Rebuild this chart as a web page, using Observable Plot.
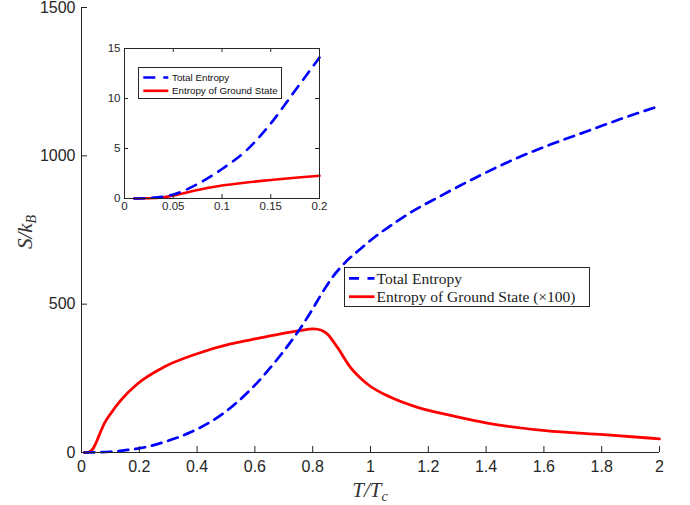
<!DOCTYPE html>
<html>
<head>
<meta charset="utf-8">
<script src="https://cdn.jsdelivr.net/npm/d3@7"></script>
<script src="https://cdn.jsdelivr.net/npm/@observablehq/plot@0.6"></script>
<style>
  html, body { margin: 0; padding: 0; background: white; }
  #wrap { position: relative; width: 690px; height: 505px; }
  #wrap svg { display: block; }
  #inset { position: absolute; left: 94px; top: 38px; }
  #main g[aria-label$="tick label"] { font-size: 16px; }
  #main g[aria-label$="tick label"] text { font-size: 16px; }
  #inset g[aria-label$="tick label"] { font-size: 11.5px; }
  #inset g[aria-label$="tick label"] text { font-size: 11.5px; }
</style>
</head>
<body>
<div id="wrap"><div id="main"></div><div id="inset"></div></div>
<script>
// ---- Main panel data (S/k_B vs T/Tc) ----
const totalT = [0.01, 0.1, 0.17, 0.2, 0.285, 0.377, 0.481, 0.585, 0.683, 0.758, 0.795, 0.829, 0.864, 0.913, 0.965, 1.017, 1.075, 1.127, 1.245, 1.367, 1.494, 1.62, 1.747, 1.874, 2.0];
const totalS = [0, 2.5, 10, 14, 35, 68, 125, 212, 321, 420, 476, 532, 585, 641, 686, 728, 768, 802, 866, 928, 987, 1037, 1082, 1127, 1168];

const groundT = [0.01, 0.02, 0.03, 0.04, 0.05, 0.066, 0.08, 0.1, 0.135, 0.193, 0.285, 0.4, 0.516, 0.585, 0.689, 0.75, 0.804, 0.83, 0.85, 0.885, 0.93, 0.989, 1.07, 1.16, 1.277, 1.404, 1.605, 1.807, 2.0];
const groundS100 = [0, 0, 4, 13, 32, 70, 100, 130, 175, 231, 288, 333, 366, 380, 400, 410, 417, 412, 400, 355, 288, 231, 186, 153, 125, 99, 74, 60, 46];

const mainXTicks = [0, 0.2, 0.4, 0.6, 0.8, 1, 1.2, 1.4, 1.6, 1.8, 2];
const mainYTicks = [0, 500, 1000, 1500];

// ---- Inset data (low temperature zoom) ----
const insetTotalT = [0.01, 0.025, 0.04, 0.05, 0.075, 0.1, 0.125, 0.15, 0.175, 0.2];
const insetTotalS = [0, 0.05, 0.2, 0.4, 1.45, 2.95, 4.8, 7.5, 10.8, 14.1];
const insetGroundT = [0.01, 0.025, 0.04, 0.055, 0.07, 0.085, 0.1, 0.125, 0.15, 0.175, 0.2];
const insetGroundS = [0, 0.02, 0.12, 0.4, 0.75, 1.05, 1.3, 1.6, 1.85, 2.07, 2.27];

const insetXTicks = [0, 0.05, 0.1, 0.15, 0.2];
const insetYTicks = [0, 5, 10, 15];

const legendMain = ["Total Entropy", "Entropy of Ground State (\u00d7100)"];
const legendInset = ["Total Entropy", "Entropy of Ground State"];

const BLUE = "#0000ff", RED = "#ff0000", AX = "#262626";

const totalRows = totalT.map((t, i) => ({t, s: totalS[i]}));
const groundRows = groundT.map((t, i) => ({t, s: groundS100[i]}));
const insetTotalRows = insetTotalT.map((t, i) => ({t, s: insetTotalS[i]}));
const insetGroundRows = insetGroundT.map((t, i) => ({t, s: insetGroundS[i]}));

const mW = 690, mH = 505, mL = 81, mR = 31, mT = 7, mB = 53;
const fw = mW - mL - mR, fh = mH - mT - mB;

const mainPlot = Plot.plot({
  width: mW, height: mH,
  marginLeft: mL, marginRight: mR, marginTop: mT, marginBottom: mB,
  x: {domain: [0, 2]},
  y: {domain: [0, 1500]},
  style: {fontFamily: "'Liberation Sans', Arial, sans-serif", fontSize: "16px", color: AX, background: "white", overflow: "visible"},
  marks: [
    Plot.line(groundRows, {x: "t", y: "s", stroke: RED, strokeWidth: 2.8, curve: "monotone-x"}),
    Plot.line(totalRows, {x: "t", y: "s", stroke: BLUE, strokeWidth: 2.7, strokeDasharray: "10,7", curve: "monotone-x"}),
    Plot.ruleX([0], {stroke: AX, strokeWidth: 1}),
    Plot.ruleY([0], {stroke: AX, strokeWidth: 1}),
    Plot.tickX(mainXTicks, {x: d => d, insetTop: fh - 6, stroke: AX}),
    Plot.tickY(mainYTicks, {y: d => d, insetRight: fw - 6, stroke: AX}),
    Plot.axisX(mainXTicks, {tickSize: 0, tickPadding: 8, tickFormat: d => String(d), label: null, fontSize: 16}),
    Plot.axisY(mainYTicks, {tickSize: 0, tickPadding: 6, tickFormat: d => String(d), label: null, fontSize: 16})
  ]
});
document.getElementById("main").appendChild(mainPlot);

// Axis titles and legend of main panel
{
  const svg = d3.select(mainPlot);
  const serif = "'Liberation Serif', 'Times New Roman', serif";
  const xl = svg.append("text").attr("x", 370).attr("y", 497).attr("text-anchor", "middle")
    .attr("font-family", serif).attr("font-style", "italic").attr("font-size", 21).attr("fill", "#333");
  xl.append("tspan").text("T/T");
  xl.append("tspan").attr("font-size", 14).attr("dy", 4).text("c");

  const yl = svg.append("text").attr("transform", "translate(32,232) rotate(-90)").attr("text-anchor", "middle")
    .attr("font-family", serif).attr("font-style", "italic").attr("font-size", 21).attr("fill", "#333");
  yl.append("tspan").text("S/k");
  yl.append("tspan").attr("font-size", 14).attr("dy", 4).text("B");

  const g = svg.append("g");
  g.append("rect").attr("x", 344.5).attr("y", 267.5).attr("width", 245).attr("height", 39)
    .attr("fill", "white").attr("stroke", AX).attr("stroke-width", 1);
  const rowsY = [278.3, 296.7];
  g.append("line").attr("x1", 349).attr("x2", 374.5).attr("y1", rowsY[0]).attr("y2", rowsY[0])
    .attr("stroke", BLUE).attr("stroke-width", 2.7).attr("stroke-dasharray", "10,8.5");
  g.append("line").attr("x1", 349).attr("x2", 374.5).attr("y1", rowsY[1]).attr("y2", rowsY[1])
    .attr("stroke", RED).attr("stroke-width", 2.8);
  legendMain.forEach((t, i) => {
    g.append("text").attr("x", 376.5).attr("y", rowsY[i]).attr("dy", "0.35em")
      .attr("text-anchor", "start")
      .attr("font-family", serif).attr("font-size", 15.5).attr("fill", "#222").text(t);
  });
}

// ---- Inset ----
const iW = 240, iH = 185, iL = 30, iR = 15, iT = 10, iB = 25;
const ifw = iW - iL - iR, ifh = iH - iT - iB;
const insetPlot = Plot.plot({
  width: iW, height: iH,
  marginLeft: iL, marginRight: iR, marginTop: iT, marginBottom: iB,
  x: {domain: [0, 0.2]},
  y: {domain: [0, 15]},
  style: {fontFamily: "'Liberation Sans', Arial, sans-serif", fontSize: "11.5px", color: AX, background: "transparent"},
  marks: [
    Plot.frame({fill: "white", stroke: null}),
    Plot.line(insetGroundRows, {x: "t", y: "s", stroke: RED, strokeWidth: 2.6, curve: "monotone-x"}),
    Plot.line(insetTotalRows, {x: "t", y: "s", stroke: BLUE, strokeWidth: 2.6, strokeDasharray: "10,8", curve: "monotone-x"}),
    Plot.frame({stroke: AX, strokeWidth: 1}),
    Plot.tickX(insetXTicks, {x: d => d, insetTop: ifh - 4, stroke: AX}),
    Plot.tickX(insetXTicks, {x: d => d, insetBottom: ifh - 4, stroke: AX}),
    Plot.tickY(insetYTicks, {y: d => d, insetRight: ifw - 4, stroke: AX}),
    Plot.tickY(insetYTicks, {y: d => d, insetLeft: ifw - 4, stroke: AX}),
    Plot.axisX(insetXTicks, {tickSize: 0, tickPadding: 3, tickFormat: d => String(d), label: null, fontSize: 11.5}),
    Plot.axisY(insetYTicks, {tickSize: 0, tickPadding: 4, tickFormat: d => String(d), label: null, fontSize: 11.5})
  ]
});
document.getElementById("inset").appendChild(insetPlot);

{
  const svg = d3.select(insetPlot);
  const g = svg.append("g");
  g.append("rect").attr("x", 44.5).attr("y", 29.5).attr("width", 143).attr("height", 31)
    .attr("fill", "white").attr("stroke", AX).attr("stroke-width", 1);
  const rowsY = [39.5, 52.8];
  g.append("line").attr("x1", 49.3).attr("x2", 74.3).attr("y1", rowsY[0]).attr("y2", rowsY[0])
    .attr("stroke", BLUE).attr("stroke-width", 2.6).attr("stroke-dasharray", "12,8");
  g.append("line").attr("x1", 49.3).attr("x2", 74.3).attr("y1", rowsY[1]).attr("y2", rowsY[1])
    .attr("stroke", RED).attr("stroke-width", 2.6);
  legendInset.forEach((t, i) => {
    g.append("text").attr("x", 78).attr("y", rowsY[i]).attr("dy", "0.35em")
      .attr("text-anchor", "start")
      .attr("font-family", "'Liberation Sans', Arial, sans-serif").attr("font-size", 9.8)
      .attr("fill", "#111").text(t);
  });
}
</script>
</body>
</html>
